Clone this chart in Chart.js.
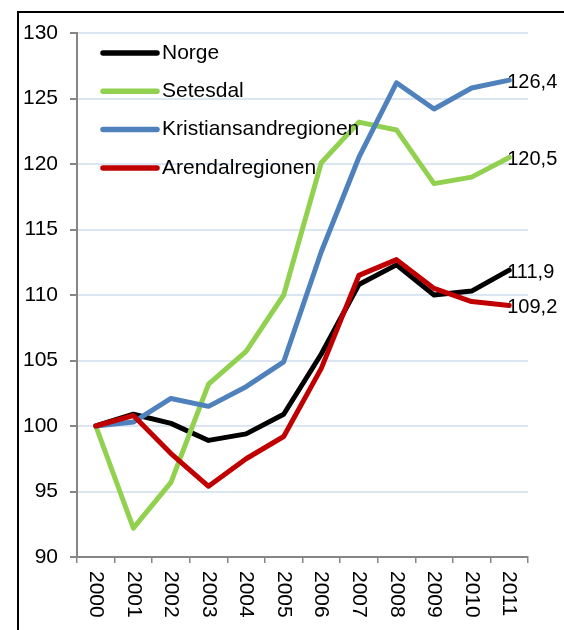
<!DOCTYPE html>
<html>
<head>
<meta charset="utf-8">
<script src="https://cdn.jsdelivr.net/npm/chart.js@4.4.1/dist/chart.umd.min.js"></script>
<style>
  body { margin: 0; background: #fff; }
  canvas { display: block; }
</style>
</head>
<body>
<canvas id="myChart" width="564" height="630"></canvas>
<script>
// years on the x axis
var years = ['2000', '2001', '2002', '2003', '2004', '2005', '2006', '2007', '2008', '2009', '2010', '2011'];

// index series, 2000 = 100
var norge = [100, 100.9, 100.2, 98.9, 99.4, 100.9, 105.5, 110.8, 112.3, 110.0, 110.3, 111.9];
var setesdal = [100, 92.2, 95.7, 103.2, 105.7, 110.0, 120.1, 123.2, 122.6, 118.5, 119.0, 120.5];
var kristiansand = [100, 100.3, 102.1, 101.5, 103.0, 104.9, 113.3, 120.5, 126.2, 124.2, 125.8, 126.4];
var arendal = [100, 100.8, 97.9, 95.4, 97.5, 99.2, 104.4, 111.5, 112.7, 110.5, 109.5, 109.2];

var seriesNames = ['Norge', 'Setesdal', 'Kristiansandregionen', 'Arendalregionen'];
var seriesColors = ['#000000', '#92d050', '#4f81bd', '#c00000'];
var seriesData = [norge, setesdal, kristiansand, arendal];

var FAMILY = '"Liberation Sans", Arial, sans-serif';

var datasets = seriesData.map(function (d, i) {
    return {
        label: seriesNames[i],
        data: d,
        borderColor: seriesColors[i],
        backgroundColor: seriesColors[i],
        borderWidth: 5,
        pointRadius: 0,
        tension: 0,
        borderJoinStyle: 'round',
        borderCapStyle: 'round',
        order: seriesData.length - i   // later series drawn on top
    };
});

// frame, legend, rotated year labels and end value labels
var extras = {
    id: 'extras',
    beforeDraw: function (chart) {
        var c = chart.ctx;
        c.save();
        c.fillStyle = '#fff';
        c.fillRect(0, 0, chart.width, chart.height);
        c.restore();
    },
    afterDatasetsDraw: function (chart) {
        var c = chart.ctx;
        var area = chart.chartArea;
        c.save();
        c.fillStyle = '#000';
        c.textBaseline = 'middle';
        c.textAlign = 'left';
        // values at the end of each line
        c.font = '20px ' + FAMILY;
        chart.data.datasets.forEach(function (ds, i) {
            var meta = chart.getDatasetMeta(i);
            var p = meta.data[meta.data.length - 1];
            var v = ds.data[ds.data.length - 1];
            c.fillText(v.toFixed(1).replace('.', ','), p.x - 2, p.y + 2);
        });
        // legend
        c.font = '21px ' + FAMILY;
        seriesNames.forEach(function (name, i) {
            var y = area.top + 20 + i * 38.3;
            c.strokeStyle = seriesColors[i];
            c.lineWidth = 5.5;
            c.lineCap = 'round';
            c.beginPath();
            c.moveTo(area.left + 26, y);
            c.lineTo(area.left + 80, y);
            c.stroke();
            c.fillText(name, area.left + 85, y);
        });
        // year labels, rotated
        var xs = chart.scales.x;
        years.forEach(function (yr, i) {
            c.save();
            c.translate(xs.getPixelForValue(i), area.bottom + 14);
            c.rotate(Math.PI / 2);
            c.fillText(yr, 0, 0);
            c.restore();
        });
        // outer frame
        c.strokeStyle = '#000';
        c.lineWidth = 2;
        c.strokeRect(18, 12, 600, 700);
        c.restore();
    }
};

var ctx = document.getElementById('myChart').getContext('2d');

var myChart = new Chart(ctx, {
    type: 'line',
    data: {
        labels: years,
        datasets: datasets
    },
    options: {
        responsive: false,
        animation: false,
        layout: {
            padding: { left: 0, top: 33, right: 36, bottom: 0 }
        },
        plugins: {
            legend: { display: false },
            tooltip: { enabled: false }
        },
        scales: {
            x: {
                offset: true,
                afterFit: function (s) { s.height = 73; },
                grid: {
                    offset: true,
                    drawOnChartArea: false,
                    tickLength: 6,
                    tickColor: '#868686',
                    lineWidth: 1.5
                },
                border: { color: '#868686', width: 2 },
                ticks: { display: false }
            },
            y: {
                min: 90,
                max: 130,
                afterFit: function (s) { s.width = 77; },
                ticks: {
                    stepSize: 5,
                    padding: 12,
                    color: '#000',
                    font: { family: FAMILY, size: 21 }
                },
                grid: {
                    color: '#dce6f2',
                    lineWidth: 2,
                    tickLength: 7,
                    tickColor: '#868686'
                },
                border: { color: '#868686', width: 2 }
            }
        }
    },
    plugins: [extras]
});
</script>
</body>
</html>
